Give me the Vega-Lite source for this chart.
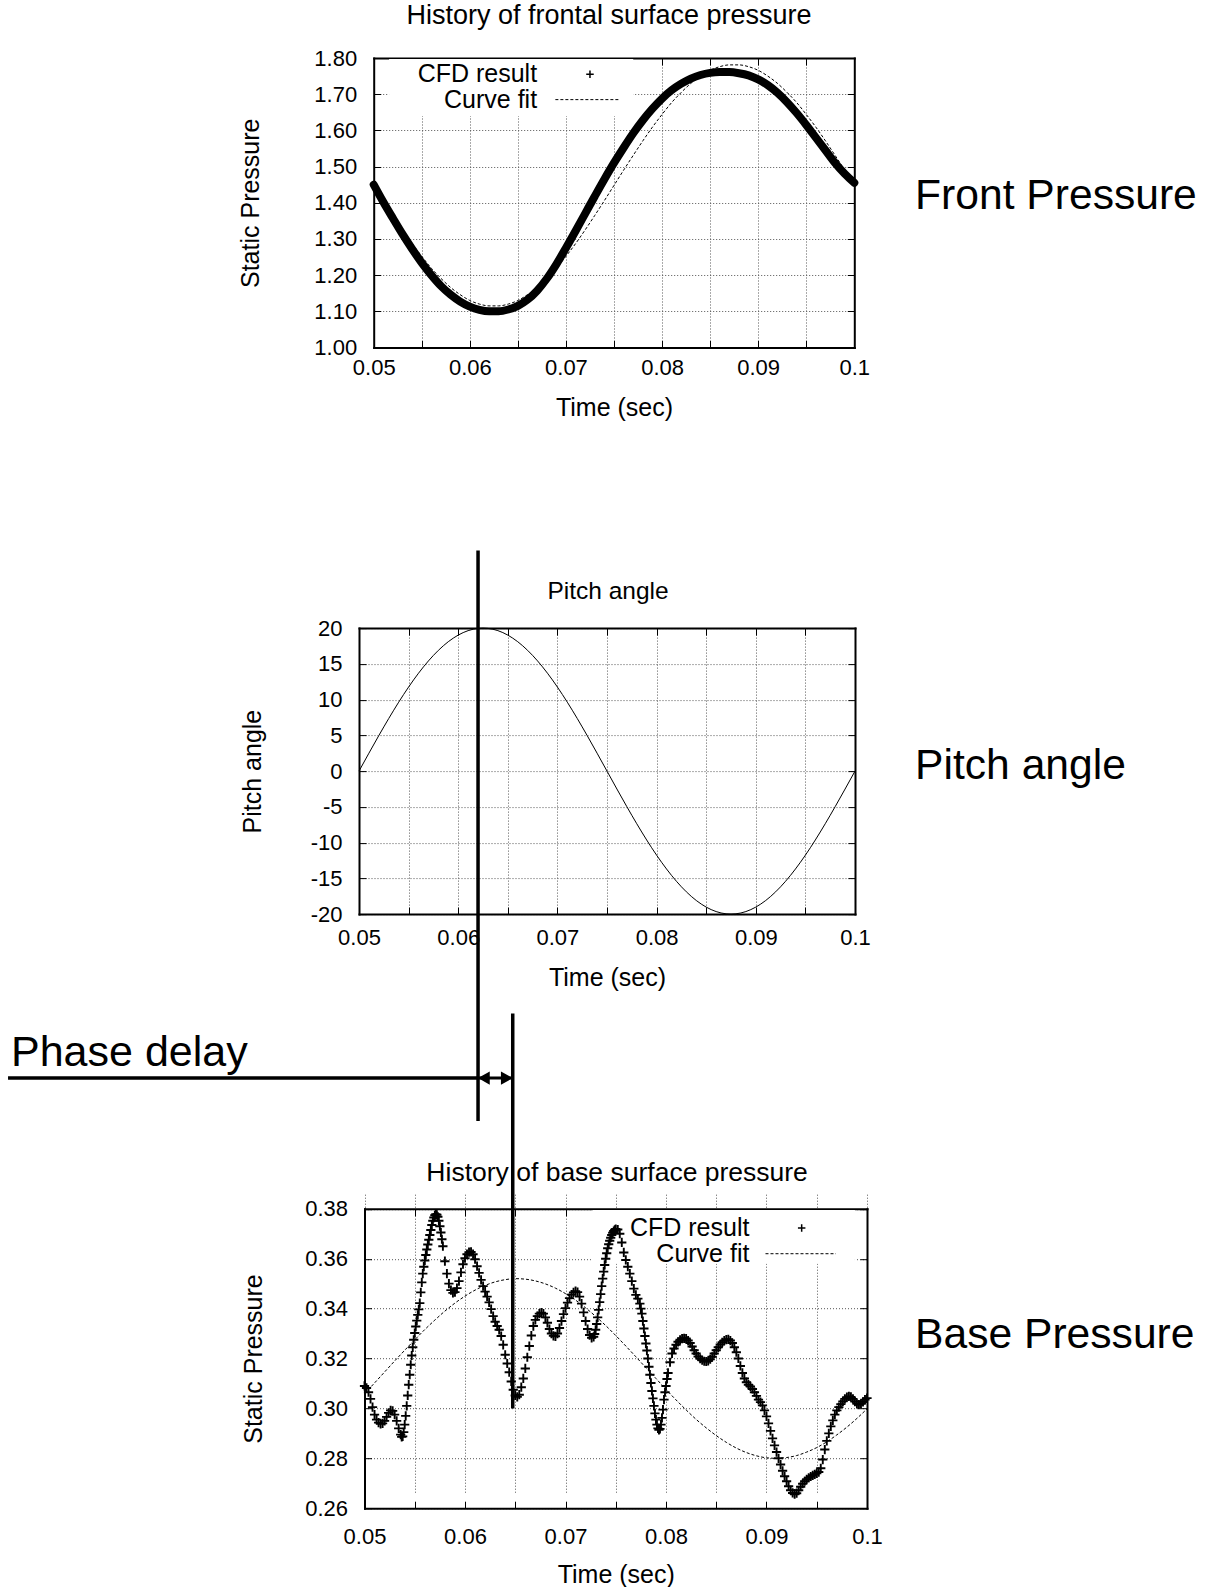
{
  "$schema": "https://vega.github.io/schema/vega-lite/v6.json",
  "background": "white",
  "autosize": {"type": "pad"},
  "padding": {"left": 6, "top": 1, "right": 0, "bottom": 0},
  "bounds": "flush",
  "spacing": 280.1,
  "config": {
    "view": {"stroke": null},
    "font": "Liberation Sans",
    "axis": {
      "domainColor": "#000", "domainWidth": 2, "domainCap": "square",
      "tickColor": "#000", "tickWidth": 1, "tickSize": -7,
      "labelFont": "Liberation Sans", "labelFontSize": 22, "labelColor": "#000",
      "titleFont": "Liberation Sans", "titleFontSize": 25, "titleFontWeight": "normal", "titleColor": "#000",
      "gridColor": "#555", "gridDash": [1, 2], "gridWidth": 1, "gridOpacity": 1,
      "labelOverlap": false, "labelFlush": false, "labelBound": false
    },
    "text": {"font": "Liberation Sans", "color": "#000"}
  },
  "datasets": {
    "front_cfd": [
      {"t":0.050,"p":1.450},{"t":0.051,"p":1.402},{"t":0.052,"p":1.357},{"t":0.053,"p":1.313},{"t":0.054,"p":1.272},
      {"t":0.055,"p":1.234},{"t":0.056,"p":1.200},{"t":0.057,"p":1.170},{"t":0.058,"p":1.146},{"t":0.059,"p":1.127},
      {"t":0.060,"p":1.113},{"t":0.061,"p":1.104},{"t":0.062,"p":1.100},{"t":0.063,"p":1.100},{"t":0.064,"p":1.105},
      {"t":0.065,"p":1.115},{"t":0.066,"p":1.132},{"t":0.067,"p":1.157},{"t":0.068,"p":1.190},{"t":0.069,"p":1.230},
      {"t":0.070,"p":1.275},{"t":0.071,"p":1.322},{"t":0.072,"p":1.370},{"t":0.073,"p":1.418},{"t":0.074,"p":1.465},
      {"t":0.075,"p":1.510},{"t":0.076,"p":1.552},{"t":0.077,"p":1.592},{"t":0.078,"p":1.628},{"t":0.079,"p":1.660},
      {"t":0.080,"p":1.688},{"t":0.081,"p":1.711},{"t":0.082,"p":1.729},{"t":0.083,"p":1.743},{"t":0.084,"p":1.753},
      {"t":0.085,"p":1.759},{"t":0.086,"p":1.761},{"t":0.087,"p":1.761},{"t":0.088,"p":1.758},{"t":0.089,"p":1.752},
      {"t":0.090,"p":1.741},{"t":0.091,"p":1.725},{"t":0.092,"p":1.704},{"t":0.093,"p":1.678},{"t":0.094,"p":1.648},
      {"t":0.095,"p":1.615},{"t":0.096,"p":1.580},{"t":0.097,"p":1.545},{"t":0.098,"p":1.510},{"t":0.099,"p":1.480},
      {"t":0.100,"p":1.455}
    ],
    "front_fit": [
      {"t":0.050,"p":1.448},{"t":0.051,"p":1.406},{"t":0.052,"p":1.365},{"t":0.053,"p":1.325},{"t":0.054,"p":1.287},
      {"t":0.055,"p":1.252},{"t":0.056,"p":1.219},{"t":0.057,"p":1.191},{"t":0.058,"p":1.166},{"t":0.059,"p":1.146},
      {"t":0.060,"p":1.130},{"t":0.061,"p":1.120},{"t":0.062,"p":1.115},{"t":0.063,"p":1.115},{"t":0.064,"p":1.120},
      {"t":0.065,"p":1.130},{"t":0.066,"p":1.146},{"t":0.067,"p":1.166},{"t":0.068,"p":1.191},{"t":0.069,"p":1.219},
      {"t":0.070,"p":1.252},{"t":0.071,"p":1.287},{"t":0.072,"p":1.325},{"t":0.073,"p":1.365},{"t":0.074,"p":1.406},
      {"t":0.075,"p":1.448},{"t":0.076,"p":1.490},{"t":0.077,"p":1.531},{"t":0.078,"p":1.571},{"t":0.079,"p":1.609},
      {"t":0.080,"p":1.644},{"t":0.081,"p":1.677},{"t":0.082,"p":1.705},{"t":0.083,"p":1.730},{"t":0.084,"p":1.750},
      {"t":0.085,"p":1.766},{"t":0.086,"p":1.776},{"t":0.087,"p":1.781},{"t":0.088,"p":1.781},{"t":0.089,"p":1.776},
      {"t":0.090,"p":1.766},{"t":0.091,"p":1.750},{"t":0.092,"p":1.730},{"t":0.093,"p":1.705},{"t":0.094,"p":1.677},
      {"t":0.095,"p":1.644},{"t":0.096,"p":1.609},{"t":0.097,"p":1.571},{"t":0.098,"p":1.531},{"t":0.099,"p":1.490},
      {"t":0.100,"p":1.448}
    ],
    "pitch": [
      {"t":0.050,"a":0},{"t":0.051,"a":2.507},{"t":0.052,"a":4.974},{"t":0.053,"a":7.362},{"t":0.054,"a":9.636},
      {"t":0.055,"a":11.756},{"t":0.056,"a":13.69},{"t":0.057,"a":15.41},{"t":0.058,"a":16.886},{"t":0.059,"a":18.096},
      {"t":0.060,"a":19.021},{"t":0.061,"a":19.646},{"t":0.062,"a":19.961},{"t":0.0625,"a":20},{"t":0.063,"a":19.961},
      {"t":0.064,"a":19.646},{"t":0.065,"a":19.021},{"t":0.066,"a":18.096},{"t":0.067,"a":16.886},{"t":0.068,"a":15.41},
      {"t":0.069,"a":13.69},{"t":0.070,"a":11.756},{"t":0.071,"a":9.636},{"t":0.072,"a":7.362},{"t":0.073,"a":4.974},
      {"t":0.074,"a":2.507},{"t":0.075,"a":0},{"t":0.076,"a":-2.507},{"t":0.077,"a":-4.974},{"t":0.078,"a":-7.362},
      {"t":0.079,"a":-9.636},{"t":0.080,"a":-11.756},{"t":0.081,"a":-13.69},{"t":0.082,"a":-15.41},{"t":0.083,"a":-16.886},
      {"t":0.084,"a":-18.096},{"t":0.085,"a":-19.021},{"t":0.086,"a":-19.646},{"t":0.087,"a":-19.961},{"t":0.0875,"a":-20},
      {"t":0.088,"a":-19.961},{"t":0.089,"a":-19.646},{"t":0.090,"a":-19.021},{"t":0.091,"a":-18.096},{"t":0.092,"a":-16.886},
      {"t":0.093,"a":-15.41},{"t":0.094,"a":-13.69},{"t":0.095,"a":-11.756},{"t":0.096,"a":-9.636},{"t":0.097,"a":-7.362},
      {"t":0.098,"a":-4.974},{"t":0.099,"a":-2.507},{"t":0.100,"a":0}
    ],
    "base_fit": [
      {"t":0.050,"p":0.3059},{"t":0.051,"p":0.3102},{"t":0.052,"p":0.3146},{"t":0.053,"p":0.3190},{"t":0.054,"p":0.3233},
      {"t":0.055,"p":0.3275},{"t":0.056,"p":0.3316},{"t":0.057,"p":0.3354},{"t":0.058,"p":0.3390},{"t":0.059,"p":0.3422},
      {"t":0.060,"p":0.3450},{"t":0.061,"p":0.3474},{"t":0.062,"p":0.3493},{"t":0.063,"p":0.3507},{"t":0.064,"p":0.3516},
      {"t":0.065,"p":0.3520},{"t":0.066,"p":0.3518},{"t":0.067,"p":0.3511},{"t":0.068,"p":0.3499},{"t":0.069,"p":0.3482},
      {"t":0.070,"p":0.3460},{"t":0.071,"p":0.3434},{"t":0.072,"p":0.3403},{"t":0.073,"p":0.3369},{"t":0.074,"p":0.3332},
      {"t":0.075,"p":0.3292},{"t":0.076,"p":0.3250},{"t":0.077,"p":0.3207},{"t":0.078,"p":0.3163},{"t":0.079,"p":0.3120},
      {"t":0.080,"p":0.3076},{"t":0.081,"p":0.3034},{"t":0.082,"p":0.2994},{"t":0.083,"p":0.2956},{"t":0.084,"p":0.2922},
      {"t":0.085,"p":0.2891},{"t":0.086,"p":0.2864},{"t":0.087,"p":0.2841},{"t":0.088,"p":0.2823},{"t":0.089,"p":0.2810},
      {"t":0.090,"p":0.2802},{"t":0.091,"p":0.2800},{"t":0.092,"p":0.2803},{"t":0.093,"p":0.2811},{"t":0.094,"p":0.2825},
      {"t":0.095,"p":0.2843},{"t":0.096,"p":0.2866},{"t":0.097,"p":0.2894},{"t":0.098,"p":0.2925},{"t":0.099,"p":0.2960},
      {"t":0.100,"p":0.2998}
    ],
    "base_cfd": [
      {"t":0.0500,"p":0.3090},{"t":0.0502,"p":0.3082},{"t":0.0504,"p":0.3065},{"t":0.0506,"p":0.3038},{"t":0.0508,"p":0.3005},
      {"t":0.0510,"p":0.2975},{"t":0.0512,"p":0.2955},{"t":0.0514,"p":0.2943},{"t":0.0516,"p":0.2938},{"t":0.0518,"p":0.2940},
      {"t":0.0520,"p":0.2950},{"t":0.0522,"p":0.2966},{"t":0.0524,"p":0.2982},{"t":0.0526,"p":0.2992},{"t":0.0528,"p":0.2990},
      {"t":0.0530,"p":0.2975},{"t":0.0532,"p":0.2950},{"t":0.0534,"p":0.2920},{"t":0.0536,"p":0.2895},{"t":0.0537,"p":0.2886},
      {"t":0.0538,"p":0.2888},{"t":0.0539,"p":0.2905},{"t":0.0540,"p":0.2935},{"t":0.0541,"p":0.2970},{"t":0.0542,"p":0.3010},
      {"t":0.0543,"p":0.3052},{"t":0.0544,"p":0.3095},{"t":0.0545,"p":0.3135},{"t":0.0546,"p":0.3175},{"t":0.0547,"p":0.3212},
      {"t":0.0548,"p":0.3245},{"t":0.0549,"p":0.3275},{"t":0.0550,"p":0.3302},{"t":0.0551,"p":0.3328},{"t":0.0552,"p":0.3352},
      {"t":0.0553,"p":0.3375},{"t":0.0554,"p":0.3397},{"t":0.0555,"p":0.3422},{"t":0.0556,"p":0.3465},{"t":0.0557,"p":0.3505},
      {"t":0.0558,"p":0.3540},{"t":0.0559,"p":0.3568},{"t":0.0560,"p":0.3593},{"t":0.0561,"p":0.3615},{"t":0.0562,"p":0.3637},
      {"t":0.0563,"p":0.3657},{"t":0.0564,"p":0.3676},{"t":0.0565,"p":0.3695},{"t":0.0566,"p":0.3715},{"t":0.0567,"p":0.3735},
      {"t":0.0568,"p":0.3752},{"t":0.0569,"p":0.3765},{"t":0.0570,"p":0.3774},{"t":0.0571,"p":0.3778},{"t":0.0572,"p":0.3776},
      {"t":0.0573,"p":0.3768},{"t":0.0574,"p":0.3752},{"t":0.0575,"p":0.3730},{"t":0.0576,"p":0.3705},{"t":0.0577,"p":0.3678},
      {"t":0.0578,"p":0.3650},{"t":0.0580,"p":0.3590},{"t":0.0582,"p":0.3540},{"t":0.0584,"p":0.3500},{"t":0.0586,"p":0.3474},
      {"t":0.0588,"p":0.3463},{"t":0.0590,"p":0.3466},{"t":0.0592,"p":0.3482},{"t":0.0594,"p":0.3510},{"t":0.0596,"p":0.3545},
      {"t":0.0598,"p":0.3578},{"t":0.0600,"p":0.3602},{"t":0.0602,"p":0.3618},{"t":0.0604,"p":0.3626},{"t":0.0606,"p":0.3627},
      {"t":0.0608,"p":0.3618},{"t":0.0610,"p":0.3598},{"t":0.0612,"p":0.3570},{"t":0.0614,"p":0.3543},{"t":0.0616,"p":0.3515},
      {"t":0.0618,"p":0.3490},{"t":0.0620,"p":0.3468},{"t":0.0622,"p":0.3448},{"t":0.0624,"p":0.3425},{"t":0.0626,"p":0.3398},
      {"t":0.0628,"p":0.3370},{"t":0.0630,"p":0.3347},{"t":0.0632,"p":0.3330},{"t":0.0634,"p":0.3315},{"t":0.0636,"p":0.3290},
      {"t":0.0638,"p":0.3255},{"t":0.0640,"p":0.3215},{"t":0.0642,"p":0.3180},{"t":0.0644,"p":0.3145},{"t":0.0646,"p":0.3108},
      {"t":0.0648,"p":0.3075},{"t":0.0650,"p":0.3052},{"t":0.0652,"p":0.3046},{"t":0.0654,"p":0.3055},{"t":0.0656,"p":0.3085},
      {"t":0.0658,"p":0.3120},{"t":0.0660,"p":0.3160},{"t":0.0662,"p":0.3205},{"t":0.0664,"p":0.3250},{"t":0.0666,"p":0.3292},
      {"t":0.0668,"p":0.3330},{"t":0.0670,"p":0.3355},{"t":0.0672,"p":0.3370},{"t":0.0674,"p":0.3380},{"t":0.0676,"p":0.3384},
      {"t":0.0678,"p":0.3380},{"t":0.0680,"p":0.3365},{"t":0.0682,"p":0.3343},{"t":0.0684,"p":0.3318},{"t":0.0686,"p":0.3300},
      {"t":0.0688,"p":0.3291},{"t":0.0690,"p":0.3289},{"t":0.0692,"p":0.3300},{"t":0.0694,"p":0.3322},{"t":0.0696,"p":0.3350},
      {"t":0.0698,"p":0.3378},{"t":0.0700,"p":0.3402},{"t":0.0702,"p":0.3424},{"t":0.0704,"p":0.3442},{"t":0.0706,"p":0.3456},
      {"t":0.0708,"p":0.3465},{"t":0.0710,"p":0.3470},{"t":0.0712,"p":0.3466},{"t":0.0714,"p":0.3448},{"t":0.0716,"p":0.3420},
      {"t":0.0718,"p":0.3385},{"t":0.0720,"p":0.3350},{"t":0.0722,"p":0.3318},{"t":0.0724,"p":0.3294},{"t":0.0726,"p":0.3283},
      {"t":0.0728,"p":0.3287},{"t":0.0729,"p":0.3298},{"t":0.0730,"p":0.3315},{"t":0.0731,"p":0.3338},{"t":0.0732,"p":0.3365},
      {"t":0.0733,"p":0.3395},{"t":0.0734,"p":0.3426},{"t":0.0735,"p":0.3458},{"t":0.0736,"p":0.3490},{"t":0.0737,"p":0.3520},
      {"t":0.0738,"p":0.3548},{"t":0.0739,"p":0.3575},{"t":0.0740,"p":0.3600},{"t":0.0741,"p":0.3622},{"t":0.0742,"p":0.3642},
      {"t":0.0743,"p":0.3658},{"t":0.0744,"p":0.3672},{"t":0.0745,"p":0.3684},{"t":0.0746,"p":0.3695},{"t":0.0747,"p":0.3704},
      {"t":0.0748,"p":0.3711},{"t":0.0749,"p":0.3716},{"t":0.0750,"p":0.3719},{"t":0.0752,"p":0.3717},{"t":0.0754,"p":0.3700},
      {"t":0.0756,"p":0.3665},{"t":0.0758,"p":0.3625},{"t":0.0760,"p":0.3595},{"t":0.0762,"p":0.3568},{"t":0.0764,"p":0.3540},
      {"t":0.0766,"p":0.3510},{"t":0.0768,"p":0.3480},{"t":0.0770,"p":0.3455},{"t":0.0772,"p":0.3440},{"t":0.0774,"p":0.3420},
      {"t":0.0775,"p":0.3400},{"t":0.0776,"p":0.3380},{"t":0.0777,"p":0.3350},{"t":0.0778,"p":0.3320},{"t":0.0779,"p":0.3290},
      {"t":0.0780,"p":0.3260},{"t":0.0781,"p":0.3232},{"t":0.0782,"p":0.3200},{"t":0.0783,"p":0.3167},{"t":0.0784,"p":0.3135},
      {"t":0.0785,"p":0.3102},{"t":0.0786,"p":0.3070},{"t":0.0787,"p":0.3040},{"t":0.0788,"p":0.3010},{"t":0.0789,"p":0.2980},
      {"t":0.0790,"p":0.2955},{"t":0.0791,"p":0.2935},{"t":0.0792,"p":0.2920},{"t":0.0793,"p":0.2914},{"t":0.0794,"p":0.2918},
      {"t":0.0795,"p":0.2935},{"t":0.0796,"p":0.2962},{"t":0.0797,"p":0.2995},{"t":0.0798,"p":0.3035},{"t":0.0799,"p":0.3065},
      {"t":0.0800,"p":0.3090},{"t":0.0801,"p":0.3118},{"t":0.0802,"p":0.3142},{"t":0.0804,"p":0.3185},{"t":0.0806,"p":0.3220},
      {"t":0.0808,"p":0.3240},{"t":0.0810,"p":0.3255},{"t":0.0812,"p":0.3267},{"t":0.0814,"p":0.3275},{"t":0.0816,"p":0.3280},
      {"t":0.0818,"p":0.3281},{"t":0.0820,"p":0.3280},{"t":0.0822,"p":0.3272},{"t":0.0824,"p":0.3262},{"t":0.0826,"p":0.3248},
      {"t":0.0828,"p":0.3233},{"t":0.0830,"p":0.3220},{"t":0.0832,"p":0.3208},{"t":0.0834,"p":0.3199},{"t":0.0836,"p":0.3193},
      {"t":0.0838,"p":0.3189},{"t":0.0840,"p":0.3188},{"t":0.0842,"p":0.3190},{"t":0.0844,"p":0.3197},{"t":0.0846,"p":0.3207},
      {"t":0.0848,"p":0.3220},{"t":0.0850,"p":0.3233},{"t":0.0852,"p":0.3245},{"t":0.0854,"p":0.3256},{"t":0.0856,"p":0.3265},
      {"t":0.0858,"p":0.3272},{"t":0.0860,"p":0.3276},{"t":0.0862,"p":0.3277},{"t":0.0864,"p":0.3272},{"t":0.0866,"p":0.3262},
      {"t":0.0868,"p":0.3245},{"t":0.0870,"p":0.3225},{"t":0.0872,"p":0.3200},{"t":0.0874,"p":0.3170},{"t":0.0876,"p":0.3142},
      {"t":0.0878,"p":0.3120},{"t":0.0880,"p":0.3105},{"t":0.0882,"p":0.3095},{"t":0.0884,"p":0.3088},{"t":0.0886,"p":0.3078},
      {"t":0.0888,"p":0.3065},{"t":0.0890,"p":0.3050},{"t":0.0892,"p":0.3035},{"t":0.0894,"p":0.3025},{"t":0.0896,"p":0.3012},
      {"t":0.0898,"p":0.2992},{"t":0.0900,"p":0.2968},{"t":0.0902,"p":0.2940},{"t":0.0904,"p":0.2910},{"t":0.0906,"p":0.2880},
      {"t":0.0908,"p":0.2852},{"t":0.0910,"p":0.2825},{"t":0.0912,"p":0.2800},{"t":0.0914,"p":0.2775},{"t":0.0916,"p":0.2750},
      {"t":0.0918,"p":0.2728},{"t":0.0920,"p":0.2708},{"t":0.0922,"p":0.2688},{"t":0.0924,"p":0.2672},{"t":0.0926,"p":0.2661},
      {"t":0.0928,"p":0.2656},{"t":0.0930,"p":0.2660},{"t":0.0932,"p":0.2672},{"t":0.0934,"p":0.2686},{"t":0.0936,"p":0.2698},
      {"t":0.0938,"p":0.2708},{"t":0.0940,"p":0.2716},{"t":0.0942,"p":0.2722},{"t":0.0944,"p":0.2727},{"t":0.0946,"p":0.2732},
      {"t":0.0948,"p":0.2736},{"t":0.0950,"p":0.2740},{"t":0.0952,"p":0.2745},{"t":0.0954,"p":0.2760},{"t":0.0956,"p":0.2795},
      {"t":0.0958,"p":0.2835},{"t":0.0960,"p":0.2870},{"t":0.0962,"p":0.2900},{"t":0.0964,"p":0.2928},{"t":0.0966,"p":0.2952},
      {"t":0.0968,"p":0.2975},{"t":0.0970,"p":0.2992},{"t":0.0972,"p":0.3005},{"t":0.0974,"p":0.3017},{"t":0.0976,"p":0.3028},
      {"t":0.0978,"p":0.3038},{"t":0.0980,"p":0.3045},{"t":0.0982,"p":0.3048},{"t":0.0984,"p":0.3046},{"t":0.0986,"p":0.3038},
      {"t":0.0988,"p":0.3027},{"t":0.0990,"p":0.3018},{"t":0.0992,"p":0.3015},{"t":0.0994,"p":0.3018},{"t":0.0996,"p":0.3026},
      {"t":0.0998,"p":0.3035},{"t":0.1000,"p":0.3041}
    ]
  },
  "vconcat": [
    {
      "width": 495.3,
      "height": 289.5,
      "resolve": {"axis": {"x": "independent", "y": "independent"}},
      "layer": [
        {
          "data": {"values": [{}]},
          "mark": {"type": "rect", "fill": "white", "strokeWidth": 0},
          "encoding": {
            "x": {"datum": 0.0516, "type": "quantitative",
                  "scale": {"domain": [0.05, 0.1], "range": [14.7, 495.3], "nice": false, "zero": false},
                  "axis": {"orient": "bottom", "values": [0.05, 0.055, 0.06, 0.065, 0.07, 0.075, 0.08, 0.085, 0.09, 0.095, 0.1],
                           "labelExpr": "round(datum.value * 1000) % 10 == 0 ? format(datum.value, '~g') : ''",
                           "grid": true, "labelPadding": 17, "title": "Time (sec)", "titleY": 68, "titleBaseline": "alphabetic"}},
            "x2": {"datum": 0.077},
            "y": {"datum": 1.64, "type": "quantitative",
                  "scale": {"domain": [1.0, 1.8], "nice": false, "zero": false},
                  "axis": {"orient": "left", "values": [1.0, 1.1, 1.2, 1.3, 1.4, 1.5, 1.6, 1.7, 1.8], "format": ".2f",
                           "grid": true, "labelPadding": 24, "offset": -14.7,
                           "title": "Static Pressure", "titleX": -115, "titleBaseline": "alphabetic"}},
            "y2": {"datum": 1.797}
          }
        },
        {
          "data": {"name": "front_fit"},
          "mark": {"type": "line", "color": "#000", "strokeWidth": 1, "strokeDash": [3, 2], "interpolate": "monotone"},
          "encoding": {
            "x": {"field": "t", "type": "quantitative",
                  "scale": {"domain": [0.05, 0.1], "range": [14.7, 495.3], "nice": false, "zero": false},
                  "axis": {"orient": "top", "values": [0.05, 0.055, 0.06, 0.065, 0.07, 0.075, 0.08, 0.085, 0.09, 0.095, 0.1],
                           "labels": false, "grid": false,
                           "title": "History of frontal surface pressure", "titleFontSize": 27,
                           "titleX": 249.5, "titleY": -34.8, "titleAlign": "center", "titleBaseline": "alphabetic"}},
            "y": {"field": "p", "type": "quantitative",
                  "scale": {"domain": [1.0, 1.8], "nice": false, "zero": false},
                  "axis": {"orient": "right", "values": [1.0, 1.1, 1.2, 1.3, 1.4, 1.5, 1.6, 1.7, 1.8],
                           "labels": false, "grid": false,
                           "title": "Front Pressure", "titleAngle": 0, "titleAlign": "left", "titleBaseline": "alphabetic",
                           "titleX": 60.3, "titleY": 150, "titleFontSize": 42.6}}
          }
        },
        {
          "data": {"name": "front_cfd"},
          "mark": {"type": "line", "color": "#000", "strokeWidth": 8, "strokeCap": "round", "strokeJoin": "round", "interpolate": "monotone"},
          "encoding": {
            "x": {"field": "t", "type": "quantitative", "scale": {"domain": [0.05, 0.1], "range": [14.7, 495.3], "nice": false, "zero": false}, "axis": null},
            "y": {"field": "p", "type": "quantitative", "scale": {"domain": [1.0, 1.8], "nice": false, "zero": false}, "axis": null}
          }
        },
        {
          "data": {"values": [{}]},
          "mark": {"type": "text", "text": "CFD result", "align": "right", "baseline": "middle", "fontSize": 25},
          "encoding": {
            "x": {"datum": 0.067, "type": "quantitative", "scale": {"domain": [0.05, 0.1], "range": [14.7, 495.3], "nice": false, "zero": false}, "axis": null},
            "y": {"datum": 1.755, "type": "quantitative", "scale": {"domain": [1.0, 1.8], "nice": false, "zero": false}, "axis": null}
          }
        },
        {
          "data": {"values": [{}]},
          "mark": {"type": "text", "text": "Curve fit", "align": "right", "baseline": "middle", "fontSize": 25},
          "encoding": {
            "x": {"datum": 0.067, "type": "quantitative", "scale": {"domain": [0.05, 0.1], "range": [14.7, 495.3], "nice": false, "zero": false}, "axis": null},
            "y": {"datum": 1.685, "type": "quantitative", "scale": {"domain": [1.0, 1.8], "nice": false, "zero": false}, "axis": null}
          }
        },
        {
          "data": {"values": [{}]},
          "mark": {"type": "point", "shape": "M-1,0L1,0M0,-1L0,1", "filled": false, "color": "#000", "strokeWidth": 1.5, "size": 56, "opacity": 1},
          "encoding": {
            "x": {"datum": 0.0725, "type": "quantitative", "scale": {"domain": [0.05, 0.1], "range": [14.7, 495.3], "nice": false, "zero": false}, "axis": null},
            "y": {"datum": 1.755, "type": "quantitative", "scale": {"domain": [1.0, 1.8], "nice": false, "zero": false}, "axis": null}
          }
        },
        {
          "data": {"values": [{}]},
          "mark": {"type": "rule", "color": "#000", "strokeWidth": 1, "strokeDash": [3, 2]},
          "encoding": {
            "x": {"datum": 0.0689, "type": "quantitative", "scale": {"domain": [0.05, 0.1], "range": [14.7, 495.3], "nice": false, "zero": false}, "axis": null},
            "x2": {"datum": 0.0755},
            "y": {"datum": 1.685, "type": "quantitative", "scale": {"domain": [1.0, 1.8], "nice": false, "zero": false}, "axis": null}
          }
        }
      ]
    },
    {
      "width": 496,
      "height": 286,
      "resolve": {"axis": {"x": "independent", "y": "independent"}},
      "layer": [
        {
          "data": {"name": "pitch"},
          "mark": {"type": "line", "color": "#000", "strokeWidth": 1, "interpolate": "monotone"},
          "encoding": {
            "x": {"field": "t", "type": "quantitative",
                  "scale": {"domain": [0.05, 0.1], "nice": false, "zero": false},
                  "axis": {"orient": "bottom", "values": [0.05, 0.055, 0.06, 0.065, 0.07, 0.075, 0.08, 0.085, 0.09, 0.095, 0.1],
                           "labelExpr": "round(datum.value * 1000) % 10 == 0 ? format(datum.value, '~g') : ''",
                           "grid": true, "labelPadding": 20.5, "title": "Time (sec)", "titleY": 71, "titleBaseline": "alphabetic"}},
            "y": {"field": "a", "type": "quantitative",
                  "scale": {"domain": [-20, 20], "nice": false, "zero": false},
                  "axis": {"orient": "left", "values": [-20, -15, -10, -5, 0, 5, 10, 15, 20], "labelExpr": "toString(datum.value)",
                           "grid": true, "labelPadding": 24,
                           "title": "Pitch angle", "titleX": -99, "titleBaseline": "alphabetic"}}
          }
        },
        {
          "data": {"values": [{}]},
          "mark": {"type": "rule", "color": "#000", "strokeWidth": 3.5},
          "encoding": {
            "x": {"datum": 0.062, "type": "quantitative",
                  "scale": {"domain": [0.05, 0.1], "nice": false, "zero": false},
                  "axis": {"orient": "top", "values": [0.05, 0.055, 0.06, 0.065, 0.07, 0.075, 0.08, 0.085, 0.09, 0.095, 0.1],
                           "labels": false, "grid": false,
                           "title": "Pitch angle", "titleFontSize": 24.5,
                           "titleX": 248.5, "titleY": -29.7, "titleAlign": "center", "titleBaseline": "alphabetic"}},
            "y": {"datum": 30.84, "type": "quantitative",
                  "scale": {"domain": [-20, 20], "nice": false, "zero": false},
                  "axis": {"orient": "right", "values": [-20, -15, -10, -5, 0, 5, 10, 15, 20],
                           "labels": false, "grid": false,
                           "title": "Pitch angle", "titleAngle": 0, "titleAlign": "left", "titleBaseline": "alphabetic",
                           "titleX": 59.6, "titleY": 150.5, "titleFontSize": 42.6}},
            "y2": {"datum": -48.95}
          }
        },
        {
          "data": {"values": [{}]},
          "mark": {"type": "rule", "color": "#000", "strokeWidth": 3.5},
          "encoding": {
            "x": {"datum": 0.01462, "type": "quantitative", "scale": {"domain": [0.05, 0.1], "nice": false, "zero": false}, "axis": null},
            "x2": {"datum": 0.062},
            "y": {"datum": -42.94, "type": "quantitative", "scale": {"domain": [-20, 20], "nice": false, "zero": false}, "axis": null}
          }
        },
        {
          "data": {"values": [{}]},
          "mark": {"type": "rule", "color": "#000", "strokeWidth": 3},
          "encoding": {
            "x": {"datum": 0.062, "type": "quantitative", "scale": {"domain": [0.05, 0.1], "nice": false, "zero": false}, "axis": null},
            "x2": {"datum": 0.0655},
            "y": {"datum": -42.94, "type": "quantitative", "scale": {"domain": [-20, 20], "nice": false, "zero": false}, "axis": null}
          }
        },
        {
          "data": {"values": [{}]},
          "mark": {"type": "point", "shape": "triangle-left", "filled": true, "color": "#000", "size": 182, "opacity": 1},
          "encoding": {
            "x": {"datum": 0.06259, "type": "quantitative", "scale": {"domain": [0.05, 0.1], "nice": false, "zero": false}, "axis": null},
            "y": {"datum": -42.94, "type": "quantitative", "scale": {"domain": [-20, 20], "nice": false, "zero": false}, "axis": null}
          }
        },
        {
          "data": {"values": [{}]},
          "mark": {"type": "point", "shape": "triangle-right", "filled": true, "color": "#000", "size": 182, "opacity": 1},
          "encoding": {
            "x": {"datum": 0.0649, "type": "quantitative", "scale": {"domain": [0.05, 0.1], "nice": false, "zero": false}, "axis": null},
            "y": {"datum": -42.94, "type": "quantitative", "scale": {"domain": [-20, 20], "nice": false, "zero": false}, "axis": null}
          }
        },
        {
          "data": {"values": [{}]},
          "mark": {"type": "text", "text": "Phase delay", "align": "left", "baseline": "alphabetic", "fontSize": 43},
          "encoding": {
            "x": {"datum": 0.01492, "type": "quantitative", "scale": {"domain": [0.05, 0.1], "nice": false, "zero": false}, "axis": null},
            "y": {"datum": -41.26, "type": "quantitative", "scale": {"domain": [-20, 20], "nice": false, "zero": false}, "axis": null}
          }
        }
      ]
    },
    {
      "width": 508,
      "height": 314,
      "resolve": {"axis": {"x": "independent", "y": "independent"}},
      "layer": [
        {
          "data": {"values": [{}]},
          "mark": {"type": "rect", "fill": "white", "strokeWidth": 0},
          "encoding": {
            "x": {"datum": 0.0727, "type": "quantitative",
                  "scale": {"domain": [0.05, 0.1], "range": [5.5, 508], "nice": false, "zero": false},
                  "axis": {"orient": "bottom", "values": [0.05, 0.055, 0.06, 0.065, 0.07, 0.075, 0.08, 0.085, 0.09, 0.095, 0.1],
                           "labelExpr": "round(datum.value * 1000) % 10 == 0 ? format(datum.value, '~g') : ''",
                           "grid": true, "labelPadding": 25, "title": "Time (sec)", "titleY": 74, "titleBaseline": "alphabetic"}},
            "x2": {"datum": 0.0988},
            "y": {"datum": 0.358, "type": "quantitative",
                  "scale": {"domain": [0.26, 0.38], "range": [314, 14.6], "nice": false, "zero": false},
                  "axis": {"orient": "left", "values": [0.26, 0.28, 0.3, 0.32, 0.34, 0.36, 0.38], "format": ".2f",
                           "grid": true, "labelPadding": 24, "offset": -5.5,
                           "title": "Static Pressure", "titleX": -103, "titleBaseline": "alphabetic"}},
            "y2": {"datum": 0.3795}
          }
        },
        {
          "data": {"name": "base_fit"},
          "mark": {"type": "line", "color": "#000", "strokeWidth": 1, "strokeDash": [3, 2], "interpolate": "monotone"},
          "encoding": {
            "x": {"field": "t", "type": "quantitative",
                  "scale": {"domain": [0.05, 0.1], "range": [5.5, 508], "nice": false, "zero": false},
                  "axis": {"orient": "top", "offset": -14.6, "values": [0.05, 0.055, 0.06, 0.065, 0.07, 0.075, 0.08, 0.085, 0.09, 0.095, 0.1],
                           "labels": false, "grid": false,
                           "title": "History of base surface pressure", "titleFontSize": 26.5,
                           "titleX": 257.6, "titleY": -27.9, "titleAlign": "center", "titleBaseline": "alphabetic"}},
            "y": {"field": "p", "type": "quantitative",
                  "scale": {"domain": [0.26, 0.38], "range": [314, 14.6], "nice": false, "zero": false},
                  "axis": {"orient": "right", "values": [0.26, 0.28, 0.3, 0.32, 0.34, 0.36, 0.38],
                           "labels": false, "grid": false,
                           "title": "Base Pressure", "titleAngle": 0, "titleAlign": "left", "titleBaseline": "alphabetic",
                           "titleX": 47.6, "titleY": 153, "titleFontSize": 42.6}}
          }
        },
        {
          "data": {"name": "base_cfd"},
          "mark": {"type": "point", "shape": "M-1,0L1,0M0,-1L0,1", "filled": false, "color": "#000", "strokeWidth": 1.9, "size": 85, "opacity": 1},
          "encoding": {
            "x": {"field": "t", "type": "quantitative", "scale": {"domain": [0.05, 0.1], "range": [5.5, 508], "nice": false, "zero": false}, "axis": null},
            "y": {"field": "p", "type": "quantitative", "scale": {"domain": [0.26, 0.38], "range": [314, 14.6], "nice": false, "zero": false}, "axis": null}
          }
        },
        {
          "data": {"values": [{}]},
          "mark": {"type": "rule", "color": "#000", "strokeWidth": 3.5},
          "encoding": {
            "x": {"datum": 0.06475, "type": "quantitative", "scale": {"domain": [0.05, 0.1], "range": [5.5, 508], "nice": false, "zero": false}, "axis": null},
            "y": {"datum": 0.30, "type": "quantitative", "scale": {"domain": [0.26, 0.38], "range": [314, 14.6], "nice": false, "zero": false}, "axis": null},
            "y2": {"datum": 0.4583}
          }
        },
        {
          "data": {"values": [{}]},
          "mark": {"type": "text", "text": "CFD result", "align": "right", "baseline": "middle", "fontSize": 25},
          "encoding": {
            "x": {"datum": 0.0883, "type": "quantitative", "scale": {"domain": [0.05, 0.1], "range": [5.5, 508], "nice": false, "zero": false}, "axis": null},
            "y": {"datum": 0.3723, "type": "quantitative", "scale": {"domain": [0.26, 0.38], "range": [314, 14.6], "nice": false, "zero": false}, "axis": null}
          }
        },
        {
          "data": {"values": [{}]},
          "mark": {"type": "text", "text": "Curve fit", "align": "right", "baseline": "middle", "fontSize": 25},
          "encoding": {
            "x": {"datum": 0.0883, "type": "quantitative", "scale": {"domain": [0.05, 0.1], "range": [5.5, 508], "nice": false, "zero": false}, "axis": null},
            "y": {"datum": 0.362, "type": "quantitative", "scale": {"domain": [0.26, 0.38], "range": [314, 14.6], "nice": false, "zero": false}, "axis": null}
          }
        },
        {
          "data": {"values": [{}]},
          "mark": {"type": "point", "shape": "M-1,0L1,0M0,-1L0,1", "filled": false, "color": "#000", "strokeWidth": 1.5, "size": 56, "opacity": 1},
          "encoding": {
            "x": {"datum": 0.0935, "type": "quantitative", "scale": {"domain": [0.05, 0.1], "range": [5.5, 508], "nice": false, "zero": false}, "axis": null},
            "y": {"datum": 0.3723, "type": "quantitative", "scale": {"domain": [0.26, 0.38], "range": [314, 14.6], "nice": false, "zero": false}, "axis": null}
          }
        },
        {
          "data": {"values": [{}]},
          "mark": {"type": "rule", "color": "#000", "strokeWidth": 1, "strokeDash": [3, 2]},
          "encoding": {
            "x": {"datum": 0.0899, "type": "quantitative", "scale": {"domain": [0.05, 0.1], "range": [5.5, 508], "nice": false, "zero": false}, "axis": null},
            "x2": {"datum": 0.0969},
            "y": {"datum": 0.362, "type": "quantitative", "scale": {"domain": [0.26, 0.38], "range": [314, 14.6], "nice": false, "zero": false}, "axis": null}
          }
        }
      ]
    }
  ]
}
